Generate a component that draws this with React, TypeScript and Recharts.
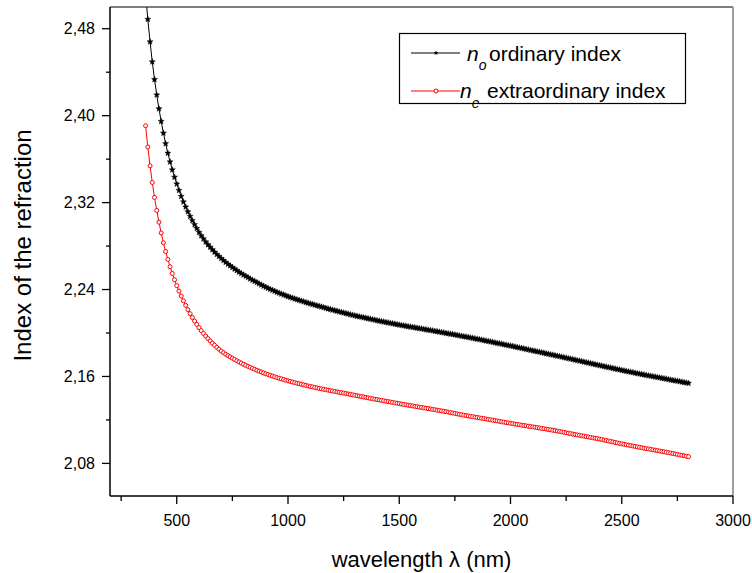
import React from 'react';
import { LineChart, Line, XAxis, YAxis, ReferenceLine, Label } from 'recharts';

// wavelength grid (nm)
const wavelengths = [
  360, 370, 380, 390,
  400, 410, 420, 430, 440, 450, 460, 470, 480, 490,
  500, 510, 520, 530, 540, 550, 560, 570, 580, 590,
  600, 610, 620, 630, 640, 650, 660, 670, 680, 690,
  700, 710, 720, 730, 740, 750, 760, 770, 780, 790,
  800, 810, 820, 830, 840, 850, 860, 870, 880, 890,
  900, 910, 920, 930, 940, 950, 960, 970, 980, 990,
  1000, 1010, 1020, 1030, 1040, 1050, 1060, 1070, 1080, 1090,
  1100, 1110, 1120, 1130, 1140, 1150, 1160, 1170, 1180, 1190,
  1200, 1210, 1220, 1230, 1240, 1250, 1260, 1270, 1280, 1290,
  1300, 1310, 1320, 1330, 1340, 1350, 1360, 1370, 1380, 1390,
  1400, 1410, 1420, 1430, 1440, 1450, 1460, 1470, 1480, 1490,
  1500, 1510, 1520, 1530, 1540, 1550, 1560, 1570, 1580, 1590,
  1600, 1610, 1620, 1630, 1640, 1650, 1660, 1670, 1680, 1690,
  1700, 1710, 1720, 1730, 1740, 1750, 1760, 1770, 1780, 1790,
  1800, 1810, 1820, 1830, 1840, 1850, 1860, 1870, 1880, 1890,
  1900, 1910, 1920, 1930, 1940, 1950, 1960, 1970, 1980, 1990,
  2000, 2010, 2020, 2030, 2040, 2050, 2060, 2070, 2080, 2090,
  2100, 2110, 2120, 2130, 2140, 2150, 2160, 2170, 2180, 2190,
  2200, 2210, 2220, 2230, 2240, 2250, 2260, 2270, 2280, 2290,
  2300, 2310, 2320, 2330, 2340, 2350, 2360, 2370, 2380, 2390,
  2400, 2410, 2420, 2430, 2440, 2450, 2460, 2470, 2480, 2490,
  2500, 2510, 2520, 2530, 2540, 2550, 2560, 2570, 2580, 2590,
  2600, 2610, 2620, 2630, 2640, 2650, 2660, 2670, 2680, 2690,
  2700, 2710, 2720, 2730, 2740, 2750, 2760, 2770, 2780, 2790,
  2800,
];

// n_o ordinary index
const ordinaryIndex = [
  2.5120, 2.4887, 2.4680, 2.4496,
  2.4333, 2.4191, 2.4064, 2.3948, 2.3840, 2.3743, 2.3655, 2.3575, 2.3502, 2.3435,
  2.3372, 2.3313, 2.3258, 2.3207, 2.3160, 2.3116, 2.3074, 2.3035, 2.2998, 2.2962,
  2.2927, 2.2896, 2.2867, 2.2839, 2.2814, 2.2790, 2.2767, 2.2745, 2.2724, 2.2705,
  2.2686, 2.2668, 2.2651, 2.2634, 2.2619, 2.2604, 2.2589, 2.2575, 2.2561, 2.2548,
  2.2535, 2.2523, 2.2511, 2.2499, 2.2487, 2.2476, 2.2465, 2.2454, 2.2443, 2.2432,
  2.2422, 2.2412, 2.2403, 2.2394, 2.2385, 2.2376, 2.2368, 2.2360, 2.2352, 2.2344,
  2.2336, 2.2329, 2.2322, 2.2315, 2.2308, 2.2302, 2.2295, 2.2289, 2.2282, 2.2276,
  2.2270, 2.2264, 2.2258, 2.2252, 2.2247, 2.2241, 2.2235, 2.2229, 2.2223, 2.2218,
  2.2212, 2.2207, 2.2202, 2.2196, 2.2191, 2.2186, 2.2181, 2.2176, 2.2170, 2.2165,
  2.2160, 2.2156, 2.2151, 2.2147, 2.2142, 2.2138, 2.2133, 2.2129, 2.2124, 2.2120,
  2.2115, 2.2111, 2.2107, 2.2103, 2.2099, 2.2095, 2.2091, 2.2087, 2.2083, 2.2079,
  2.2075, 2.2071, 2.2068, 2.2064, 2.2060, 2.2057, 2.2053, 2.2050, 2.2046, 2.2043,
  2.2039, 2.2035, 2.2032, 2.2028, 2.2025, 2.2021, 2.2017, 2.2014, 2.2010, 2.2006,
  2.2003, 2.1999, 2.1995, 2.1991, 2.1988, 2.1984, 2.1980, 2.1976, 2.1972, 2.1968,
  2.1965, 2.1961, 2.1957, 2.1953, 2.1949, 2.1945, 2.1941, 2.1937, 2.1932, 2.1928,
  2.1924, 2.1920, 2.1916, 2.1911, 2.1907, 2.1903, 2.1899, 2.1894, 2.1890, 2.1886,
  2.1882, 2.1878, 2.1873, 2.1869, 2.1864, 2.1860, 2.1856, 2.1851, 2.1847, 2.1842,
  2.1838, 2.1834, 2.1829, 2.1825, 2.1820, 2.1816, 2.1811, 2.1807, 2.1802, 2.1798,
  2.1793, 2.1789, 2.1784, 2.1780, 2.1775, 2.1771, 2.1766, 2.1762, 2.1757, 2.1753,
  2.1748, 2.1743, 2.1739, 2.1734, 2.1730, 2.1725, 2.1720, 2.1716, 2.1711, 2.1707,
  2.1702, 2.1698, 2.1693, 2.1689, 2.1684, 2.1680, 2.1675, 2.1671, 2.1666, 2.1662,
  2.1657, 2.1653, 2.1649, 2.1645, 2.1641, 2.1637, 2.1632, 2.1628, 2.1624, 2.1620,
  2.1616, 2.1612, 2.1608, 2.1604, 2.1600, 2.1597, 2.1593, 2.1589, 2.1585, 2.1581,
  2.1577, 2.1573, 2.1569, 2.1565, 2.1561, 2.1558, 2.1554, 2.1550, 2.1546, 2.1542,
  2.1538,
];

// n_e extraordinary index
const extraordinaryIndex = [
  2.3907, 2.3712, 2.3538, 2.3385,
  2.3248, 2.3128, 2.3020, 2.2921, 2.2831, 2.2750, 2.2677, 2.2610, 2.2548, 2.2490,
  2.2436, 2.2386, 2.2340, 2.2296, 2.2254, 2.2215, 2.2178, 2.2143, 2.2110, 2.2079,
  2.2050, 2.2022, 2.1996, 2.1972, 2.1949, 2.1927, 2.1906, 2.1887, 2.1868, 2.1851,
  2.1834, 2.1819, 2.1805, 2.1792, 2.1780, 2.1768, 2.1756, 2.1745, 2.1734, 2.1723,
  2.1713, 2.1703, 2.1693, 2.1684, 2.1675, 2.1666, 2.1657, 2.1649, 2.1641, 2.1633,
  2.1625, 2.1618, 2.1611, 2.1604, 2.1597, 2.1590, 2.1584, 2.1578, 2.1572, 2.1566,
  2.1560, 2.1554, 2.1549, 2.1543, 2.1538, 2.1533, 2.1528, 2.1523, 2.1518, 2.1513,
  2.1508, 2.1504, 2.1499, 2.1495, 2.1490, 2.1486, 2.1482, 2.1478, 2.1474, 2.1470,
  2.1466, 2.1462, 2.1458, 2.1455, 2.1451, 2.1447, 2.1443, 2.1439, 2.1435, 2.1431,
  2.1427, 2.1423, 2.1419, 2.1415, 2.1411, 2.1407, 2.1403, 2.1399, 2.1395, 2.1391,
  2.1388, 2.1384, 2.1380, 2.1376, 2.1372, 2.1369, 2.1365, 2.1361, 2.1357, 2.1354,
  2.1350, 2.1346, 2.1343, 2.1339, 2.1336, 2.1332, 2.1329, 2.1325, 2.1322, 2.1318,
  2.1315, 2.1311, 2.1308, 2.1304, 2.1301, 2.1297, 2.1294, 2.1290, 2.1287, 2.1283,
  2.1280, 2.1276, 2.1272, 2.1268, 2.1264, 2.1260, 2.1256, 2.1252, 2.1248, 2.1244,
  2.1240, 2.1237, 2.1233, 2.1230, 2.1226, 2.1223, 2.1219, 2.1216, 2.1212, 2.1209,
  2.1205, 2.1201, 2.1198, 2.1194, 2.1191, 2.1187, 2.1183, 2.1180, 2.1176, 2.1173,
  2.1169, 2.1166, 2.1162, 2.1159, 2.1156, 2.1152, 2.1149, 2.1146, 2.1142, 2.1139,
  2.1136, 2.1133, 2.1129, 2.1126, 2.1122, 2.1119, 2.1116, 2.1112, 2.1109, 2.1105,
  2.1102, 2.1098, 2.1094, 2.1090, 2.1086, 2.1082, 2.1078, 2.1074, 2.1070, 2.1066,
  2.1062, 2.1058, 2.1054, 2.1051, 2.1047, 2.1043, 2.1039, 2.1035, 2.1032, 2.1028,
  2.1024, 2.1020, 2.1015, 2.1011, 2.1006, 2.1002, 2.0998, 2.0993, 2.0989, 2.0984,
  2.0980, 2.0976, 2.0972, 2.0968, 2.0964, 2.0960, 2.0956, 2.0952, 2.0948, 2.0944,
  2.0940, 2.0936, 2.0933, 2.0929, 2.0925, 2.0922, 2.0918, 2.0914, 2.0910, 2.0907,
  2.0903, 2.0899, 2.0895, 2.0891, 2.0887, 2.0883, 2.0878, 2.0874, 2.0870, 2.0866,
  2.0862,
];

const xTicks = [250, 500, 750, 1000, 1250, 1500, 1750, 2000, 2250, 2500, 2750, 3000];
const yTicks = [2.08, 2.12, 2.16, 2.2, 2.24, 2.28, 2.32, 2.36, 2.4, 2.44, 2.48];
const yMajor = [2.08, 2.16, 2.24, 2.32, 2.4, 2.48];

const data = wavelengths.map((wl, i) => ({
  wl,
  no: ordinaryIndex[i],
  ne: extraordinaryIndex[i],
}));

const FONT = '"Liberation Sans", Arial, Helvetica, sans-serif';

const starPath = (cx: number, cy: number, R: number, r: number) => {
  let d = '';
  for (let i = 0; i < 10; i++) {
    const a = -Math.PI / 2 + (i * Math.PI) / 5;
    const rad = i % 2 === 0 ? R : r;
    d += (i === 0 ? 'M' : 'L') + (cx + rad * Math.cos(a)).toFixed(2) + ',' + (cy + rad * Math.sin(a)).toFixed(2);
  }
  return d + 'Z';
};

const StarDot = (props: any) => {
  const { cx, cy, index } = props;
  if (cx == null || cy == null) return <g key={index} />;
  return <path key={index} d={starPath(cx, cy, 3.2, 1.4)} fill="#000" stroke="#000" strokeWidth={0.4} />;
};

const CircleDot = (props: any) => {
  const { cx, cy, index } = props;
  if (cx == null || cy == null) return <g key={index} />;
  return <circle key={index} cx={cx} cy={cy} r={2} fill="#fff" stroke="#ff0000" strokeWidth={1} />;
};

const XTick = (props: any) => {
  const { x, y, payload } = props;
  const v = payload.value;
  const major = v % 500 === 0;
  return (
    <g>
      <line x1={x} y1={y} x2={x} y2={y + (major ? 8 : 5)} stroke="#000" strokeWidth={1.3} />
      {major && (
        <text x={x} y={y + 30} textAnchor="middle" fontSize={16} fontFamily={FONT} fill="#000">
          {v}
        </text>
      )}
    </g>
  );
};

const YTick = (props: any) => {
  const { x, y, payload } = props;
  const v = payload.value;
  const major = yMajor.some((m) => Math.abs(m - v) < 1e-6);
  return (
    <g>
      <line x1={x - (major ? 8 : 4)} y1={y} x2={x} y2={y} stroke="#000" strokeWidth={1.3} />
      {major && (
        <text x={x - 15} y={y} dy={5.5} textAnchor="end" fontSize={16} fontFamily={FONT} fill="#000">
          {v.toFixed(2).replace('.', ',')}
        </text>
      )}
    </g>
  );
};

const XTitle = (props: any) => {
  const { viewBox } = props;
  return (
    <text x={viewBox.x + viewBox.width / 2} y={viewBox.y + 71} textAnchor="middle" fontSize={22} fontFamily={FONT} fill="#000">
      wavelength λ (nm)
    </text>
  );
};

const YTitle = (props: any) => {
  const { viewBox } = props;
  const cx = 22;
  const cy = viewBox.y + viewBox.height / 2 - 6;
  return (
    <text x={cx} y={cy} transform={`rotate(-90 ${cx} ${cy})`} textAnchor="middle" dominantBaseline="central" fontSize={24} fontFamily={FONT} fill="#000">
      Index of the refraction
    </text>
  );
};

const LegendBox = () => (
  <svg width={300} height={90} style={{ position: 'absolute', left: 399, top: 33, overflow: 'visible' }}>
    <rect x={0.5} y={0.5} width={286} height={70} fill="#fff" stroke="#000" strokeWidth={1.2} />
    <line x1={12} y1={20} x2={61} y2={20} stroke="#000" strokeWidth={1} />
    <path d={starPath(37, 20, 2.4, 1.1)} fill="#000" />
    <text y={28} fontSize={21} fontFamily={FONT} fill="#000">
      <tspan x={68} fontStyle="italic">n</tspan>
      <tspan dx={0} dy={9} fontSize={14} fontStyle="italic">o</tspan>
      <tspan x={90} dy={-9}>ordinary index</tspan>
    </text>
    <line x1={12} y1={58} x2={61} y2={58} stroke="#ff0000" strokeWidth={1} />
    <circle cx={37} cy={58} r={2} fill="#fff" stroke="#ff0000" strokeWidth={1} />
    <text y={65} fontSize={21} fontFamily={FONT} fill="#000">
      <tspan x={61} fontStyle="italic">n</tspan>
      <tspan dx={0} dy={10} fontSize={14} fontStyle="italic">e</tspan>
      <tspan x={88} dy={-10}>extraordinary index</tspan>
    </text>
  </svg>
);

const App = () => {
  return (
    <div style={{ position: 'absolute', left: 0, top: 0, width: 752, height: 573, background: '#fff', fontFamily: FONT }}>
      <LineChart width={752} height={573} data={data} margin={{ top: 7, right: 19, bottom: 0, left: 0 }}>
        <XAxis
          dataKey="wl"
          type="number"
          domain={[200, 3000]}
          ticks={xTicks}
          interval={0}
          tick={<XTick />}
          tickLine={false}
          tickSize={0}
          tickMargin={0}
          height={77}
          axisLine={{ stroke: '#000', strokeWidth: 1.5 }}
        >
          <Label content={<XTitle />} />
        </XAxis>
        <YAxis
          type="number"
          domain={[2.05, 2.5]}
          allowDataOverflow
          ticks={yTicks}
          interval={0}
          tick={<YTick />}
          tickLine={false}
          tickSize={0}
          tickMargin={0}
          width={110}
          axisLine={{ stroke: '#000', strokeWidth: 1.5 }}
        >
          <Label content={<YTitle />} />
        </YAxis>
        <ReferenceLine y={2.5} stroke="#000" strokeWidth={1.2} />
        <ReferenceLine x={3000} stroke="#808080" strokeWidth={1.5} />
        <Line
          dataKey="no"
          type="linear"
          stroke="#000"
          strokeWidth={1}
          dot={(p: any) => <StarDot key={p.index} {...p} />}
          isAnimationActive={false}
        />
        <Line
          dataKey="ne"
          type="linear"
          stroke="#ff0000"
          strokeWidth={1}
          dot={(p: any) => <CircleDot key={p.index} {...p} />}
          isAnimationActive={false}
        />
      </LineChart>
      <LegendBox />
    </div>
  );
};

export default App;
